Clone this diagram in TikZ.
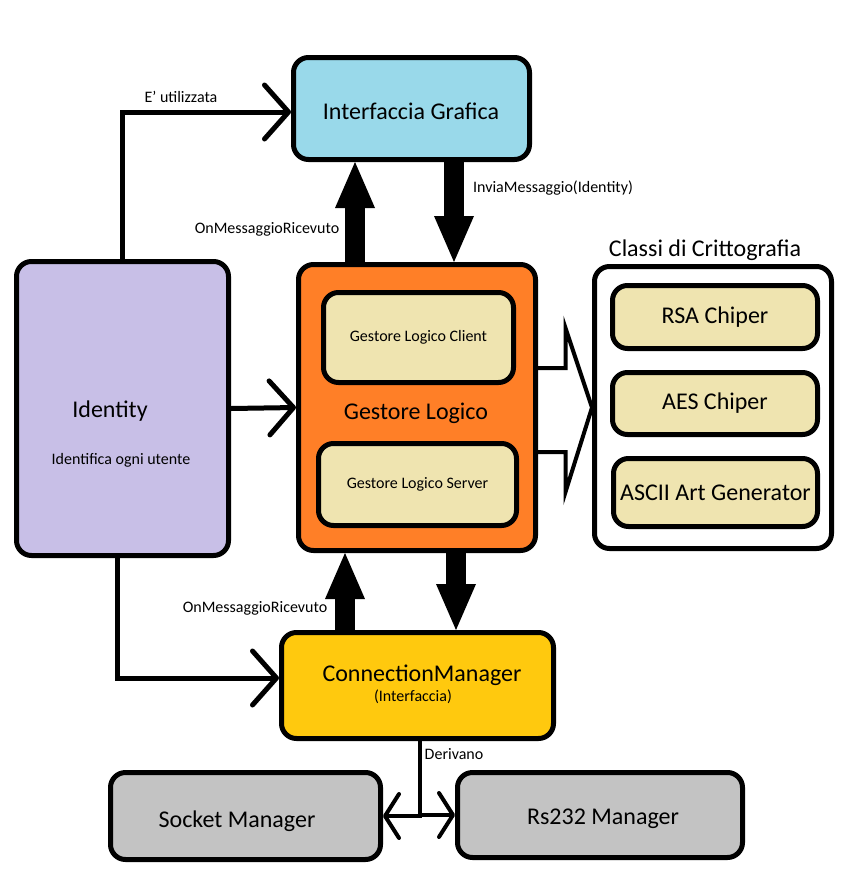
\documentclass[tikz,border=0pt]{standalone}
\usepackage{fontspec}
\setmainfont{Carlito}
\usetikzlibrary{arrows.meta}
\definecolor{azzurro}{HTML}{99D9EA}
\definecolor{lilla}{HTML}{C8BFE7}
\definecolor{arancio}{HTML}{FF7F27}
\definecolor{crema}{HTML}{EFE4B0}
\definecolor{giallo}{HTML}{FFC90E}
\definecolor{grigio}{HTML}{C3C3C3}
\newcommand{\grande}{\fontsize{24}{28}\selectfont}
\newcommand{\piccolo}{\fontsize{16}{19}\selectfont}
\begin{document}
\begin{tikzpicture}[x=1pt,y=-1pt,
	box/.style={draw,line width=5pt,rounded corners=15pt,inner sep=0pt,font=\grande},
	sub/.style={box,fill=crema,font=\piccolo},
	usa/.style={line width=5pt,-{Straight Barb[length=24pt,width=54pt,round]}},
	deriva/.style={line width=4pt,-{Straight Barb[length=14pt,width=44pt,round]}},
	grossa/.style={line width=20pt,-{Triangle[length=46pt,width=40pt,line width=0pt]}}]
				\useasboundingbox (0,0) rectangle (850,884);
				
				\node[box,fill=azzurro,minimum width=236pt,minimum height=102pt] (ig) at (411.5,108.5) {};
				\node[font=\grande] (igt) at (411,111) {Interfaccia Grafica};
				
				\node[box,fill=lilla,minimum width=212pt,minimum height=294pt] (id) at (122.5,408.5) {};
				\node[font=\grande] (idt) at (110,411) {Identity};
				\node[font=\piccolo] (idd) at (121,460) {Identifica ogni utente};
				
				\node[box,fill=arancio,minimum width=237pt,minimum height=286pt] (gl) at (417,407.5) {};
				\node[font=\grande] (glt) at (416,413) {Gestore Logico};
				\node[sub,minimum width=190pt,minimum height=90pt] (glc) at (418.5,337.5) {Gestore Logico Client};
				\node[sub,minimum width=198pt,minimum height=82pt] (gls) at (417.5,484.5) {Gestore Logico Server};
				
				\node[box,fill=white,minimum width=237pt,minimum height=282pt] (cc) at (713,407.5) {};
				\node[font=\grande] (ccl) at (705,250) {Classi di Crittografia};
				\node[box,fill=crema,minimum width=205pt,minimum height=63pt] (rsa) at (715,317) {RSA Chiper};
				\node[box,fill=crema,minimum width=205pt,minimum height=62pt] (aes) at (715,403.5) {AES Chiper};
				\node[box,fill=crema,minimum width=204pt,minimum height=68pt] (ascii) at (715.5,492.5) {ASCII Art Generator};
				
				\node[box,fill=giallo,minimum width=272pt,minimum height=106pt] (cm) at (417.5,685.5) {};
				\node[font=\grande] (cmt) at (422,675) {ConnectionManager};
				\node[font=\piccolo] (cmi) at (413,697) {(Interfaccia)};
				
				\node[box,fill=grigio,minimum width=270pt,minimum height=87pt] (sm) at (245.5,816) {};
				\node[font=\grande] (smt) at (237,821) {Socket Manager};
				\node[box,fill=grigio,minimum width=285pt,minimum height=85pt] (rs) at (600,815) {};
				\node[font=\grande] (rst) at (603,819) {Rs232 Manager};
				
				\node[font=\piccolo] (eu) at (181,97) {E' utilizzata};
				\node[font=\piccolo] (omr1) at (267,229) {OnMessaggioRicevuto};
				\node[font=\piccolo] (inv) at (553,188) {InviaMessaggio(Identity)};
				\node[font=\piccolo] (omr2) at (255,608) {OnMessaggioRicevuto};
				\node[font=\piccolo] (der) at (454,754) {Derivano};
				
				\draw[usa] (id.north) |- ([yshift=-3.5pt]ig.west);
				\draw[usa] (id.east) -- (gl.west);
				\draw[usa] ([xshift=-5.5pt]id.south) |- ([yshift=7.5pt]cm.west);
				
				\draw[grossa] ([xshift=-62pt]gl.north) -- ([xshift=-56.5pt]ig.south);
				\draw[grossa] ([xshift=42.5pt]ig.south) -- ([xshift=37pt]gl.north);
				\draw[grossa] ([xshift=-72.5pt]cm.north) -- ([xshift=-72pt]gl.south);
				\draw[grossa] ([xshift=39pt]gl.south) -- ([xshift=38.5pt]cm.north);
				
				\draw[line width=4pt] ([yshift=39.5pt]gl.east) -- ++(27.5,0) -- ++(0,-40) -- (cc.west) -- ([xshift=27.5pt,yshift=-84.5pt]gl.east) -- ++(0,-40) -- ([yshift=-44.5pt]gl.east);
				
				\draw[deriva] ([xshift=2.5pt]cm.south) |- (sm.east);
				\draw[deriva] ([xshift=2.5pt]cm.south) |- (rs.west);
			\end{tikzpicture}
\end{document}
